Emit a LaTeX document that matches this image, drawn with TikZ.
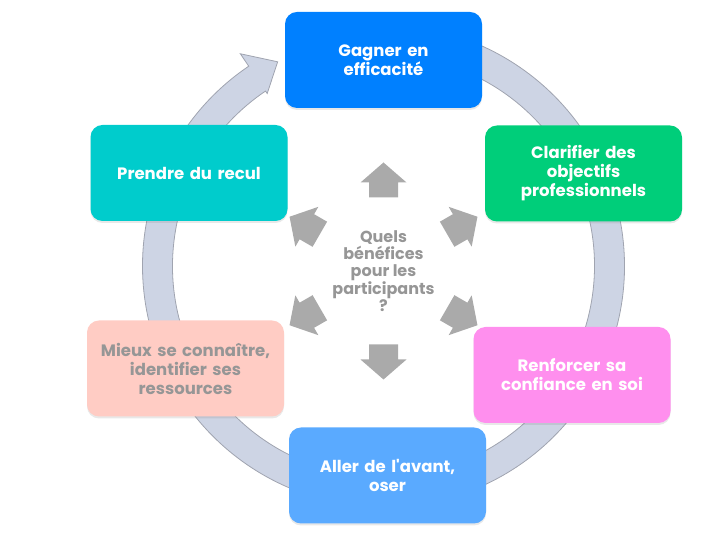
\documentclass[tikz,border=0pt]{standalone}
\usepackage{fontspec}
\newfontfamily\gothic{Poppins}
\usetikzlibrary{shadows}

\definecolor{bleu}{RGB}{0,128,255}
\definecolor{vert}{RGB}{0,206,122}
\definecolor{rose}{RGB}{255,143,238}
\definecolor{ciel}{RGB}{90,170,255}
\definecolor{saumon}{RGB}{255,204,196}
\definecolor{turquoise}{RGB}{0,204,204}
\definecolor{anneau}{RGB}{205,212,228}
\definecolor{bordanneau}{RGB}{160,164,176}
\definecolor{flechegris}{RGB}{170,170,170}
\definecolor{textegris}{RGB}{150,150,150}

\begin{document}
\begin{tikzpicture}[
    x=1pt, y=1pt,
    box/.style={rectangle, rounded corners=12pt, minimum width=197pt,
                minimum height=96pt, text width=190pt, align=center,
                text=white, font=\gothic\bfseries\fontsize{16.5}{19}\selectfont,
                drop shadow={opacity=0.18, shadow xshift=0pt, shadow yshift=-2pt}},
    question/.style={align=center, text=textegris,
                     font=\gothic\bfseries\fontsize{16}{17.3}\selectfont},
    smallarrow/.style={fill=flechegris}
]
\useasboundingbox (0,0) rectangle (720,540);

% Ring with arrow head
\coordinate (ring) at (383.5,274);
\begin{scope}[shift={(ring)}]
  \filldraw[fill=anneau, draw=bordanneau, line width=0.8pt]
    (95:241) arc[start angle=95, end angle=-236, radius=241]
    -- (-236:256) -- (-242.6:230) -- (-236:208) -- (-236:211)
    arc[start angle=-236, end angle=95, radius=211] -- cycle;
\end{scope}

% Outward arrows round the question
\coordinate (hub) at (383.5,269);
\begin{scope}[shift={(hub)}]
  \foreach \a in {90,30,-30,-90,-150,150}
    \fill[smallarrow, rotate=\a-90, yshift=91pt]
      (-14.5,-17.5) -- (14.5,-17.5) -- (14.5,-2.5) -- (23,-2.5)
      -- (0,17.5) -- (-23,-2.5) -- (-14.5,-2.5) -- cycle;
\end{scope}

% Question
\node[question] (q) at (hub) {Quels\\bénéfices\\pour les\\participants\\?};

% Benefits
\node[box, fill=bleu] (efficacite) at (383.5,480) {Gagner en\\efficacité};
\node[box, fill=vert] (objectifs) at (583.5,366.5) {Clarifier des\\objectifs\\professionnels};
\node[box, fill=rose] (confiance) at (572,165) {Renforcer sa\\confiance en soi};
\node[box, fill=ciel] (oser) at (387.5,64.5) {Aller de l'avant,\\oser};
\node[box, fill=saumon, text=textegris] (ressources) at (185.5,171.5) {Mieux se connaître,\\identifier ses\\ressources};
\node[box, fill=turquoise] (recul) at (189,367) {Prendre du recul};

\end{tikzpicture}
\end{document}
